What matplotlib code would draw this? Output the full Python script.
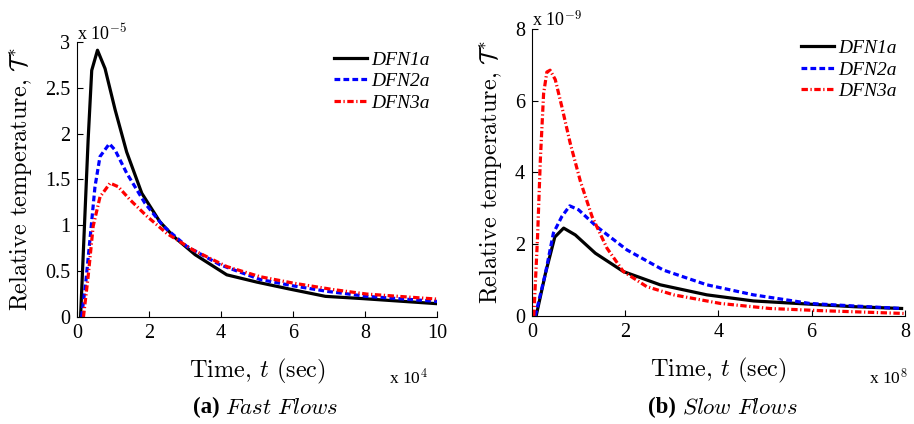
import matplotlib.pyplot as plt
import numpy as np

plt.rcParams['mathtext.fontset'] = 'cm'
plt.rcParams['axes.unicode_minus'] = False

# Fast flows: time in units of 1e4 s, temperature in units of 1e-5
t1_fast = [0.10, 0.31, 0.41, 0.57, 0.78, 1.06, 1.38, 1.80, 2.30, 2.68, 3.28, 4.16, 5.00, 5.90, 6.90, 7.95, 10.0]
y1_fast = [0.00, 1.93, 2.69, 2.91, 2.71, 2.26, 1.80, 1.35, 1.04, 0.88, 0.68, 0.46, 0.38, 0.305, 0.225, 0.20, 0.145]

t2_fast = [0.13, 0.25, 0.36, 0.50, 0.64, 0.90, 1.06, 1.38, 1.89, 2.40, 3.05, 3.97, 5.08, 6.00, 6.94, 8.05, 10.0]
y2_fast = [0.00, 0.40, 0.84, 1.42, 1.75, 1.89, 1.82, 1.57, 1.24, 0.99, 0.77, 0.57, 0.41, 0.34, 0.28, 0.225, 0.17]

t3_fast = [0.18, 0.31, 0.45, 0.64, 0.92, 1.15, 1.47, 1.94, 2.50, 3.23, 4.16, 5.08, 6.00, 7.10, 8.05, 10.0]
y3_fast = [0.00, 0.44, 0.99, 1.31, 1.46, 1.42, 1.28, 1.10, 0.91, 0.73, 0.55, 0.44, 0.37, 0.30, 0.25, 0.195]

# Slow flows: time in units of 1e8 s, temperature in units of 1e-9
t1_slow = [0.09, 0.29, 0.49, 0.68, 0.93, 1.36, 1.96, 2.75, 3.75, 4.75, 5.96, 6.90, 7.93]
y1_slow = [0.00, 1.19, 2.20, 2.45, 2.26, 1.75, 1.24, 0.87, 0.59, 0.42, 0.33, 0.26, 0.21]

t2_slow = [0.07, 0.29, 0.46, 0.64, 0.81, 1.00, 1.39, 2.04, 2.82, 3.75, 4.75, 5.96, 6.90, 7.93]
y2_slow = [0.00, 1.19, 2.31, 2.77, 3.07, 2.96, 2.49, 1.84, 1.28, 0.87, 0.59, 0.35, 0.28, 0.21]

t3_slow = [0.04, 0.12, 0.18, 0.25, 0.32, 0.39, 0.50, 0.64, 0.82, 1.04, 1.29, 1.61, 1.96, 2.46, 3.04, 4.04, 5.10, 6.18, 8.00]
y3_slow = [0.00, 2.20, 4.35, 6.20, 6.80, 6.85, 6.59, 5.84, 4.82, 3.75, 2.77, 1.89, 1.24, 0.82, 0.59, 0.35, 0.21, 0.15, 0.07]

names = ['DFN1a', 'DFN2a', 'DFN3a']
styles = [dict(color='black', ls='-'),
          dict(color='blue', ls=(0, (1.8, 1.0))),
          dict(color='red', ls=(0, (2.0, 0.8, 0.4, 0.8)))]

tick_font = dict(family='Liberation Serif', size=14.5)
label_font = dict(family='cmr10', size=17.5)

fig = plt.figure(figsize=(9.14, 4.24), dpi=100)
ax1 = fig.add_axes([0.0842, 0.2524, 0.394, 0.6486])
ax2 = fig.add_axes([0.582, 0.2547, 0.408, 0.677])


def style_axes(ax, xmax, ymax, yticks, leg_anchor):
    ax.set_xlim(0, xmax)
    ax.set_ylim(0, ymax)
    ax.set_xticks(np.arange(0, xmax + 0.1, 2))
    ax.set_yticks(yticks)
    ax.set_xticklabels([f'{v:g}' for v in ax.get_xticks()], **tick_font)
    ax.set_yticklabels([f'{v:g}' for v in yticks], **tick_font)
    ax.spines['top'].set_visible(False)
    ax.spines['right'].set_visible(False)
    ax.tick_params(direction='in', length=4, width=0.8, pad=5)
    ax.set_xlabel(r'Time, $t$ (sec)', labelpad=10, **label_font)
    ax.set_ylabel(r'Relative temperature, $\mathcal{T}^{*}$', labelpad=8, **label_font)
    ax.legend(loc='upper right', bbox_to_anchor=leg_anchor, frameon=False,
              handlelength=1.7, handletextpad=0.2,
              prop=dict(family='Liberation Serif', style='italic', size=14),
              borderaxespad=0.0, labelspacing=0.2)


for x, y, name, st in zip([t1_fast, t2_fast, t3_fast], [y1_fast, y2_fast, y3_fast], names, styles):
    ax1.plot(x, y, lw=2.3, label=name, **st)
for x, y, name, st in zip([t1_slow, t2_slow, t3_slow], [y1_slow, y2_slow, y3_slow], names, styles):
    ax2.plot(x, y, lw=2.3, label=name, **st)

style_axes(ax1, 10, 3, [0, 0.5, 1, 1.5, 2, 2.5, 3], (1.0, 0.995))
style_axes(ax2, 8, 8, [0, 2, 4, 6, 8], (0.998, 0.99))

# exponent markers
ax1.text(0, 0.995, r'x 10$^{-5}$', transform=ax1.transAxes, ha='left', va='bottom',
         family='Liberation Serif', size=13)
ax2.text(0, 0.995, r'x 10$^{-9}$', transform=ax2.transAxes, ha='left', va='bottom',
         family='Liberation Serif', size=13)
fig.text(0.426, 0.108, r'x 10$^{4}$', ha='left', va='center', family='Liberation Serif', size=12.5)
fig.text(0.951, 0.108, r'x 10$^{8}$', ha='left', va='center', family='Liberation Serif', size=12.5)

# sub-captions
fig.text(0.211, 0.04, '(a)', ha='left', va='center', family='Liberation Serif', weight='bold', size=16.5)
fig.text(0.246, 0.04, r'$\mathit{Fast\ Flows}$', ha='left', va='center', size=16.5)
fig.text(0.709, 0.04, '(b)', ha='left', va='center', family='Liberation Serif', weight='bold', size=16.5)
fig.text(0.746, 0.04, r'$\mathit{Slow\ Flows}$', ha='left', va='center', size=16.5)

plt.savefig('out.png', dpi=100)
